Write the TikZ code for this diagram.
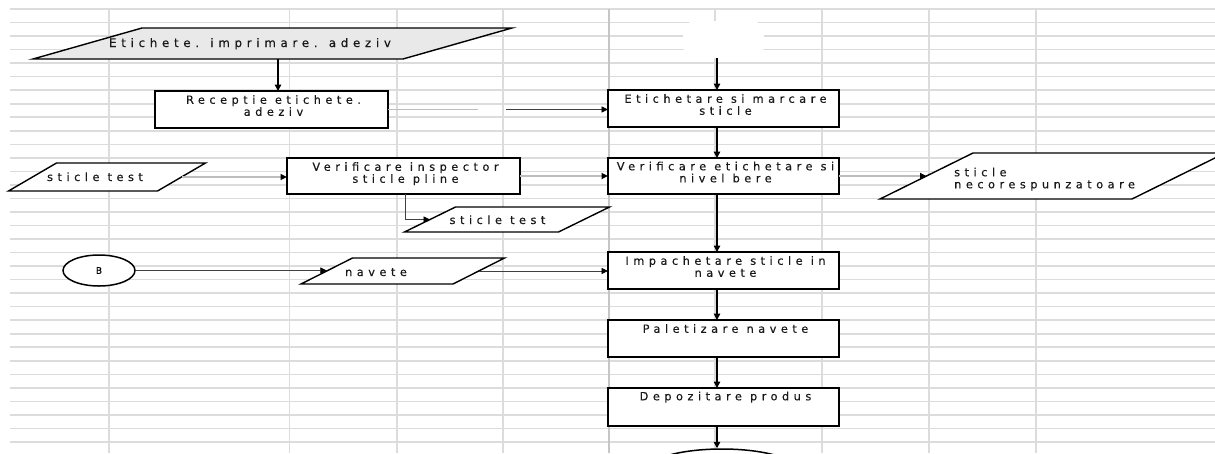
\documentclass[tikz,border=0pt]{standalone}
\usepackage{fontspec}
\usetikzlibrary{arrows.meta,shapes.geometric,calc}
\newfontfamily\dfont{DejaVu Sans}[LetterSpace=40,FakeBold=0.4]
\newfontfamily\dfontB{DejaVu Sans}[FakeBold=0.4]
\definecolor{gridc}{HTML}{DCDCDC}
\definecolor{etqfill}{HTML}{E9E9E9}
\definecolor{connc}{HTML}{BDBDBD}
\pgfdeclarelayer{gridlayer}
\pgfsetlayers{gridlayer,main}
\newcommand\paraOut[3][]{\path[paraline,#1] ([xshift=-0.5*#3pt]#2.south west) -- ([xshift=0.5*#3pt]#2.north west) -- ([xshift=0.5*#3pt]#2.north east) -- ([xshift=-0.5*#3pt]#2.south east) -- cycle;}
\tikzset{
  gridline/.style={draw=gridc, line width=1.6pt},
  boxnode/.style={rectangle, draw=black, fill=white, line width=2pt, inner sep=0pt, outer sep=0pt},
  paranode/.style={rectangle, inner sep=0pt, outer sep=0pt, draw=none},
  paraline/.style={draw=black, fill=white, line width=1.4pt, line join=miter},
  txt/.style={font=\dfont\fontsize{11.3pt}{12pt}\selectfont, inner sep=0pt, align=center, text=black!90},
  flow/.style={draw=black, line width=1.4pt, -{Triangle[length=6.5pt,width=6.5pt]}},
  slim/.style={draw=black!75, line width=0.9pt, -{Triangle[length=6.5pt,width=6pt,color=black]}},
  pale/.style={draw=connc, line width=1.6pt, -{Triangle[length=6.5pt,width=6pt,color=black]}},
  termnode/.style={ellipse, draw=black, line width=1.5pt, fill=white, inner sep=0pt},
}
\begin{document}
\begin{tikzpicture}[x=1pt,y=-1pt]
\useasboundingbox (0,0) rectangle (1215,453);
\begin{pgfonlayer}{gridlayer}
\fill[white] (0,0) rectangle (1215,453);
\foreach \k in {0,...,32} \draw[gridline] (10,{9+13.53*\k}) -- (1215,{9+13.53*\k});
\foreach \gx in {109,289.5,397,503,715,822,929,1036} \draw[gridline] (\gx,9) -- (\gx,453);
\draw[gridline, line width=2.4pt, draw=gridc!90!black] (609,9) -- (609,453);
\end{pgfonlayer}
\clip (0,0) rectangle (1215,453);
% parallelogram anchors
\node[paranode, minimum width=370pt, minimum height=31pt] (etq) at (272.5,43.5) {};
\node[paranode, minimum width=149pt, minimum height=28pt] (st1) at (107,177) {};
\node[paranode, minimum width=154pt, minimum height=25pt] (st2) at (507,219.5) {};
\node[paranode, minimum width=152pt, minimum height=26pt] (nav) at (402.75,271) {};
\node[paranode, minimum width=252pt, minimum height=46pt] (nec) at (1052.5,176) {};
\paraOut[fill=etqfill]{etq}{109}
\paraOut{st1}{48}
\paraOut{st2}{51}
\paraOut{nav}{51.5}
\paraOut{nec}{93}
% boxes
\node[boxnode, minimum width=233pt, minimum height=37pt] (rcp) at (271.5,109.5) {};
\node[boxnode, minimum width=231pt, minimum height=37pt] (etm) at (723.5,108.5) {};
\node[boxnode, minimum width=231pt, minimum height=36pt] (vet) at (723.5,176) {};
\node[boxnode, minimum width=233pt, minimum height=36pt] (vin) at (403.5,176) {};
\node[boxnode, minimum width=231pt, minimum height=37pt] (imp) at (723.5,270.5) {};
\node[boxnode, minimum width=231pt, minimum height=37pt] (pal) at (723.5,338.5) {};
\node[boxnode, minimum width=231pt, minimum height=38pt] (dep) at (723.5,407) {};
% terminals
\node[termnode, minimum width=72pt, minimum height=31pt, font=\dfontB\fontsize{9pt}{10pt}\selectfont] (B) at (99,270.5) {B};
\node[termnode, minimum width=150pt, minimum height=42pt] (fin) at (722,470) {};
\node[rectangle, rounded corners=12pt, fill=white, draw=none, minimum width=81pt, minimum height=37pt] (start) at (723.5,39.5) {};
% texts
\node[txt, anchor=base, font=\dfont\fontsize{11.8pt}{13pt}\selectfont] (etqT) at (250,47) {Etichete. imprimare. adeziv};
\node[txt, anchor=base] (st1T) at (95,181) {sticle test};
\node[txt, anchor=base] (st2T) at (497.5,224) {sticle test};
\node[txt, anchor=base] (navT) at (376,276) {navete};
\node[txt, align=left, anchor=north west] (necT) at (954,167.5) {sticle\\necorespunzatoare};
\node[txt, anchor=north] (rcpT) at ([xshift=2pt,yshift=-4pt]rcp.north) {Receptie etichete.\\adeziv};
\node[txt, anchor=north] (etmT) at ([xshift=2pt,yshift=-4pt]etm.north) {Etichetare si marcare\\sticle};
\node[txt, anchor=north] (vetT) at ([xshift=2pt,yshift=-3.5pt]vet.north) {Verificare etichetare si\\nivel bere};
\node[txt, anchor=north] (vinT) at ([xshift=2pt,yshift=-4pt]vin.north) {Verificare inspector\\sticle pline};
\node[txt, anchor=north] (impT) at ([xshift=2pt,yshift=-4pt]imp.north) {Impachetare sticle in\\navete};
\node[txt, anchor=north] (palT) at ([xshift=2pt,yshift=-4pt]pal.north) {Paletizare navete};
\node[txt, anchor=north] (depT) at ([xshift=2pt,yshift=-3.5pt]dep.north) {Depozitare produs};
% connectors
\coordinate (rg1) at (478,109.5);
\coordinate (rg2) at (506,109.5);
\draw[flow] ([xshift=5.5pt]etq.south) -- ([xshift=6.5pt]rcp.north);
\draw[pale,-] (rcp.east) -- (rg1);
\draw[slim] (rg2) -- (rg2 -| etm.west);
\draw[flow] ([xshift=-6.5pt]start.south) -- ([xshift=-6.5pt]etm.north);
\draw[flow] ([xshift=-6.5pt]etm.south) -- ([xshift=-6.5pt]vet.north);
\draw[pale] (st1.east) -- (st1.east -| vin.west);
\draw[pale] (vin.east) -- (vet.west);
\draw[pale] (vet.east) -- (nec.west);
\draw[slim] ([xshift=1.5pt]vin.south) |- (st2.west);
\draw[flow] ([xshift=-6.5pt]vet.south) -- ([xshift=-6.5pt]imp.north);
\draw[slim] (B.east) -- (B.east -| nav.west);
\draw[slim] (nav.east) -- (nav.east -| imp.west);
\draw[flow] ([xshift=-6.5pt]imp.south) -- ([xshift=-6.5pt]pal.north);
\draw[flow] ([xshift=-6.5pt]pal.south) -- ([xshift=-6.5pt]dep.north);
\draw[flow] ([xshift=-6.5pt]dep.south) -- ([xshift=-6.5pt]dep.south |- fin.north);
\end{tikzpicture}
\end{document}
